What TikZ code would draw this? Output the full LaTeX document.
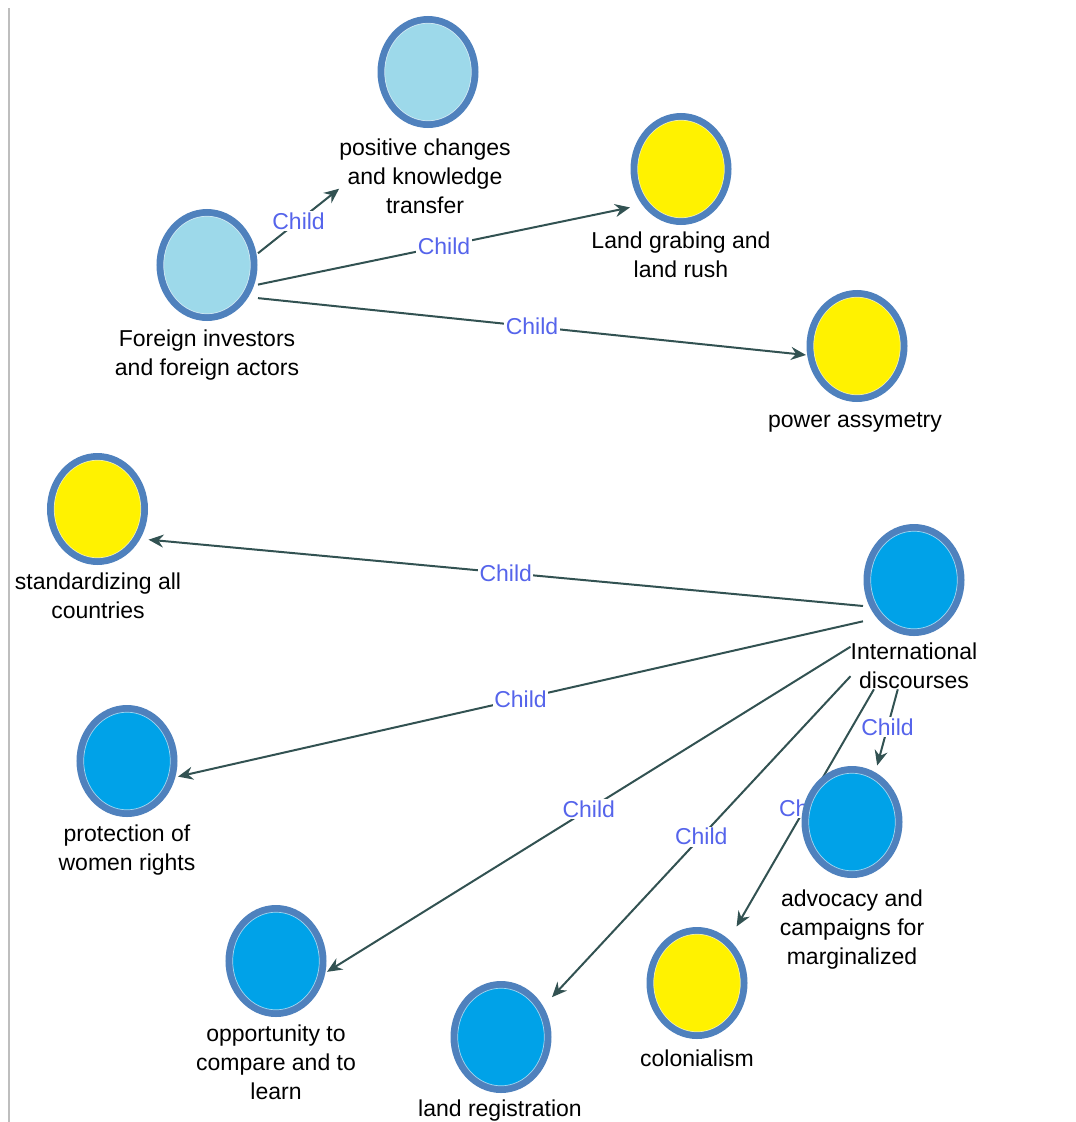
\documentclass[tikz,border=0pt]{standalone}
\usepackage{fontspec}
\setmainfont{Liberation Sans}
\usetikzlibrary{arrows.meta,backgrounds}

\definecolor{ringc}{RGB}{79,129,189}
\definecolor{paleblue}{RGB}{157,217,234}
\definecolor{brightblue}{RGB}{0,162,232}
\definecolor{sun}{RGB}{255,242,0}
\definecolor{edgec}{RGB}{50,82,82}
\definecolor{tagc}{RGB}{85,100,235}
\definecolor{framec}{RGB}{190,190,190}

\begin{document}
\begin{tikzpicture}[x=1pt,y=-1pt,
  % a bubble: square-cornered box (used for the connector ends) holding a ringed ellipse
  bub/.style={rectangle, minimum width=102pt, minimum height=113pt,
    inner sep=0pt, outer sep=0pt,
    path picture={
      \fill[#1] (path picture bounding box.center) ellipse [x radius=47pt, y radius=52.5pt];
      \draw[ringc, line width=7pt] (path picture bounding box.center)
        ellipse [x radius=47pt, y radius=52.5pt];
      \draw[white, opacity=0.6, line width=0.7pt] (path picture bounding box.center)
        ellipse [x radius=43.3pt, y radius=48.8pt];
    }},
  lbl/.style={align=center, inner sep=0pt, anchor=north,
    font=\fontsize{23}{29}\selectfont},
  link/.style={draw=edgec, line width=2pt,
    -{Stealth[length=15pt,width=13pt,inset=5pt]}},
  tag/.style={fill=white, text=tagc, inner sep=1.5pt,
    font=\fontsize{23}{27}\selectfont},
]
\useasboundingbox (0,0) rectangle (1076,1122);

% frame rule on the left
\draw[framec, line width=2pt] (8.5,8) -- (8.5,1122);

% bubbles
\node[bub=paleblue]   (fi)   at (207,265)  {};
\node[bub=paleblue]   (pc)   at (428,72)   {};
\node[bub=sun]        (lg)   at (681,169)  {};
\node[bub=sun]        (pa)   at (857,346)  {};
\node[bub=sun]        (std)  at (97.5,509) {};
\node[bub=brightblue] (intl) at (914,580)  {};
\node[bub=brightblue] (prot) at (127,761)  {};
\node[bub=brightblue] (adv)  at (852,822)  {};
\node[bub=sun]        (col)  at (697,983)  {};
\node[bub=brightblue] (opp)  at (276,961)  {};
\node[bub=brightblue] (lr)   at (501,1037) {};

% captions
\node[lbl] (fiL)   at (207,330)  {Foreign investors\\and foreign actors};
\node[lbl] (pcL)   at (425,139)  {positive changes\\and knowledge\\transfer};
\node[lbl] (lgL)   at (681,232)  {Land grabing and\\land rush};
\node[lbl] (paL)   at (855,412)  {power assymetry};
\node[lbl] (stdL)  at (98,573)   {standardizing all\\countries};
\node[lbl] (intlL) at (914,643)  {International\\discourses};
\node[lbl] (protL) at (127,825)  {protection of\\women rights};
\node[lbl] (advL)  at (852,890)  {advocacy and\\campaigns for\\marginalized};
\node[lbl] (colL)  at (697,1050) {colonialism};
\node[lbl] (oppL)  at (276,1025) {opportunity to\\compare and to\\learn};
\node[lbl] (lrL)   at (500,1100) {land registration};

% connectors, kept behind the bubbles
\begin{pgfonlayer}{background}
\draw[link] (fi.13)    -- node[tag] {Child} (pcL.188);
\draw[link] (fi.-21)   -- node[tag] {Child} (lg.217);
\draw[link] (fi.-33)   -- node[tag] {Child} (pa.190);
\draw[link] (intl.207) -- node[tag] {Child} (std.-31.5);
\draw[link] (intl.219.5) -- node[tag] {Child} (prot.-17.7);
\draw[link] (intlL.163) -- node[tag] {Child} (opp.-12.2);
\draw[link] (intlL.189) -- node[tag] {Child} (lr.38.1);
\draw[link] (intlL.210) -- node[tag] {Child} (col.55.8);
\draw[link] (intlL.235) -- node[tag] {Child} (adv.66.4);
\end{pgfonlayer}
\end{tikzpicture}
\end{document}
